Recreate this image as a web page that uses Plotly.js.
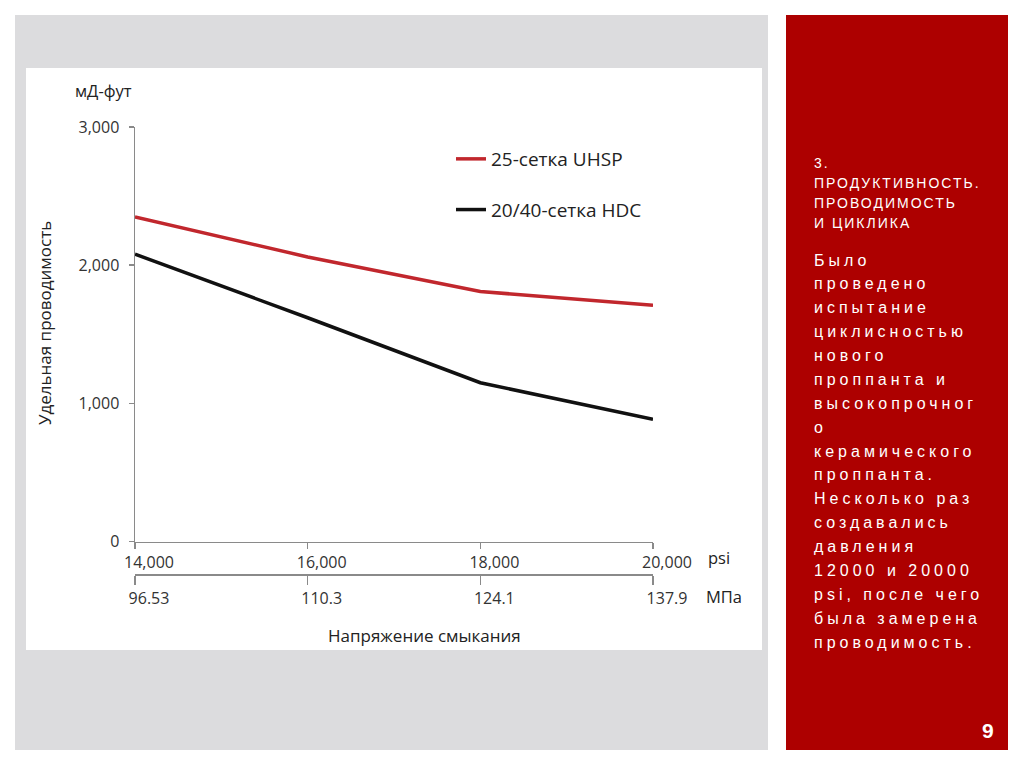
<!DOCTYPE html>
<html>
<head>
<meta charset="utf-8">
<script src="https://cdn.plot.ly/plotly-3.0.1.min.js"></script>
<style>
  html, body { margin: 0; padding: 0; background: #ffffff; }
  #chart { width: 1024px; height: 767px; }
</style>
</head>
<body>
<div id="chart"></div>
<script>
// ---- data ----
const psiTicks = [14000, 16000, 18000, 20000];
const mpaLabels = ['96.53', '110.3', '124.1', '137.9'];
const yTicks = [0, 1000, 2000, 3000];
const uhspValues = [2350, 2060, 1810, 1710];
const hdcValues = [2080, 1620, 1150, 885];
const seriesNames = ['25-сетка UHSP', '20/40-сетка HDC'];
const headingLines = ['3.', 'ПРОДУКТИВНОСТЬ.', 'ПРОВОДИМОСТЬ', 'И ЦИКЛИКА'];
const bodyLines = ['Было', 'проведено', 'испытание', 'циклисностью', 'нового',
  'проппанта и', 'высокопрочног', 'о', 'керамического', 'проппанта.',
  'Несколько раз', 'создавались', 'давления', '12000 и 20000',
  'psi, после чего', 'была замерена', 'проводимость.'];
const slideNumber = '9';

// ---- layout geometry (pixels) ----
const W = 1024, H = 767;
const L = 135, R = 653, T = 127, B = 574, X0 = 541.7;
const PW = R - L, PH = B - T;
const px = x => (x - L) / PW;
const py = y => (B - y) / PH;

const FAM = '"Open Sans", Lato, sans-serif';
const tickFont = {family: FAM, size: 16, color: '#333'};
const labelFont = {family: FAM, size: 16.5, color: '#222'};
const sideFam = '"Liberation Sans", Arial, sans-serif';

const traces = [
  {x: psiTicks, y: uhspValues, name: seriesNames[0], type: 'scatter', mode: 'lines',
   line: {color: '#c1272d', width: 3.5}, legendgroup: 'a', hoverinfo: 'skip'},
  {x: psiTicks, y: hdcValues, name: seriesNames[1], type: 'scatter', mode: 'lines',
   line: {color: '#111111', width: 3.5}, legendgroup: 'b', hoverinfo: 'skip'},
  {x: psiTicks, y: psiTicks.map(() => null), xaxis: 'x2', yaxis: 'y', type: 'scatter',
   mode: 'lines', showlegend: false, hoverinfo: 'skip'}
];

const annotations = [];
headingLines.forEach((t, i) => {
  annotations.push({text: t, xref: 'paper', yref: 'paper', x: px(812), y: py(163 + i * 20),
    xanchor: 'left', yanchor: 'middle', align: 'left', showarrow: false,
    font: {family: sideFam, size: 14, color: '#ffffff'}});
});
bodyLines.forEach((t, i) => {
  annotations.push({text: t, xref: 'paper', yref: 'paper', x: px(812), y: py(260 + i * 23.88),
    xanchor: 'left', yanchor: 'middle', align: 'left', showarrow: false,
    font: {family: sideFam, size: 16, color: '#ffffff'}});
});
const nHeading = headingLines.length, nSide = headingLines.length + bodyLines.length;
annotations.push(
  {text: slideNumber, xref: 'paper', yref: 'paper', x: px(988), y: py(730), xanchor: 'center', yanchor: 'middle',
   showarrow: false, font: {family: sideFam, size: 21, color: '#ffffff', weight: 'bold'}},
  {text: 'мД-фут', xref: 'paper', yref: 'paper', x: px(73), y: py(90), xanchor: 'left', yanchor: 'middle',
   showarrow: false, font: labelFont},
  {text: 'psi', xref: 'paper', yref: 'paper', x: px(706), y: py(557), xanchor: 'left', yanchor: 'middle',
   showarrow: false, font: labelFont},
  {text: 'МПа', xref: 'paper', yref: 'paper', x: px(704), y: py(596), xanchor: 'left', yanchor: 'middle',
   showarrow: false, font: labelFont},
  {text: 'Напряжение смыкания', xref: 'paper', yref: 'paper', x: px(424), y: py(635), xanchor: 'center', yanchor: 'middle',
   showarrow: false, font: {family: FAM, size: 17, color: '#222'}},
  {text: 'Удельная проводимость', xref: 'paper', yref: 'paper', x: px(44), y: py(323), xanchor: 'center', yanchor: 'middle',
   textangle: -90, showarrow: false, font: {family: FAM, size: 17, color: '#222'}}
);

const shapes = [
  {type: 'rect', xref: 'paper', yref: 'paper', x0: px(15), x1: px(768), y0: py(15), y1: py(750),
   fillcolor: '#dcdcde', line: {width: 0}, layer: 'below'},
  {type: 'rect', xref: 'paper', yref: 'paper', x0: px(26), x1: px(762), y0: py(68), y1: py(650),
   fillcolor: '#ffffff', line: {width: 0}, layer: 'below'},
  {type: 'rect', xref: 'paper', yref: 'paper', x0: px(786), x1: px(1008), y0: py(15), y1: py(750),
   fillcolor: '#ad0000', line: {width: 0}, layer: 'below'}
];

const axisCommon = {
  range: [psiTicks[0], psiTicks[psiTicks.length - 1]],
  tickvals: psiTicks, showgrid: false, zeroline: false, showline: true,
  linecolor: '#8a8a8a', linewidth: 1.5, tickcolor: '#8a8a8a', tickwidth: 1.5,
  ticks: 'outside', tickfont: tickFont, fixedrange: true, ticklabelshift: 14
};

const layout = {
  width: W, height: H,
  margin: {l: L, r: W - R, t: T, b: H - B, pad: 0},
  paper_bgcolor: '#ffffff', plot_bgcolor: 'rgba(0,0,0,0)',
  showlegend: true,
  legend: {x: px(451), y: py(140), xanchor: 'left', yanchor: 'top', bgcolor: 'rgba(0,0,0,0)',
    font: {family: FAM, size: 19, color: '#222'}, traceorder: 'grouped',
    tracegroupgap: 23, itemwidth: 30},
  xaxis: Object.assign({}, axisCommon, {anchor: 'y', tickformat: ',d', ticklen: 6}),
  xaxis2: Object.assign({}, axisCommon, {overlaying: 'x', anchor: 'free', position: 0, side: 'bottom',
    ticktext: mpaLabels, ticklen: 9}),
  yaxis: {domain: [(B - X0) / PH, 1], range: [yTicks[0], yTicks[yTicks.length - 1]], tickvals: yTicks,
    tickformat: ',d', showgrid: false, zeroline: false, showline: true, linecolor: '#8a8a8a', linewidth: 1.5,
    ticks: 'outside', ticklen: 5, tickcolor: '#8a8a8a', tickwidth: 1.5, tickfont: tickFont,
    ticklabelstandoff: 6, fixedrange: true},
  annotations: annotations,
  shapes: shapes
};

Plotly.newPlot('chart', traces, layout, {displayModeBar: false, staticPlot: true}).then(gd => {
  gd.querySelectorAll('.annotation').forEach(a => {
    const i = +a.getAttribute('data-index');
    const t = a.querySelector('text');
    if (!t) return;
    if (i < nHeading) t.style.letterSpacing = '2px';
    else if (i < nSide) t.style.letterSpacing = '4px';
  });
});
</script>
</body>
</html>
